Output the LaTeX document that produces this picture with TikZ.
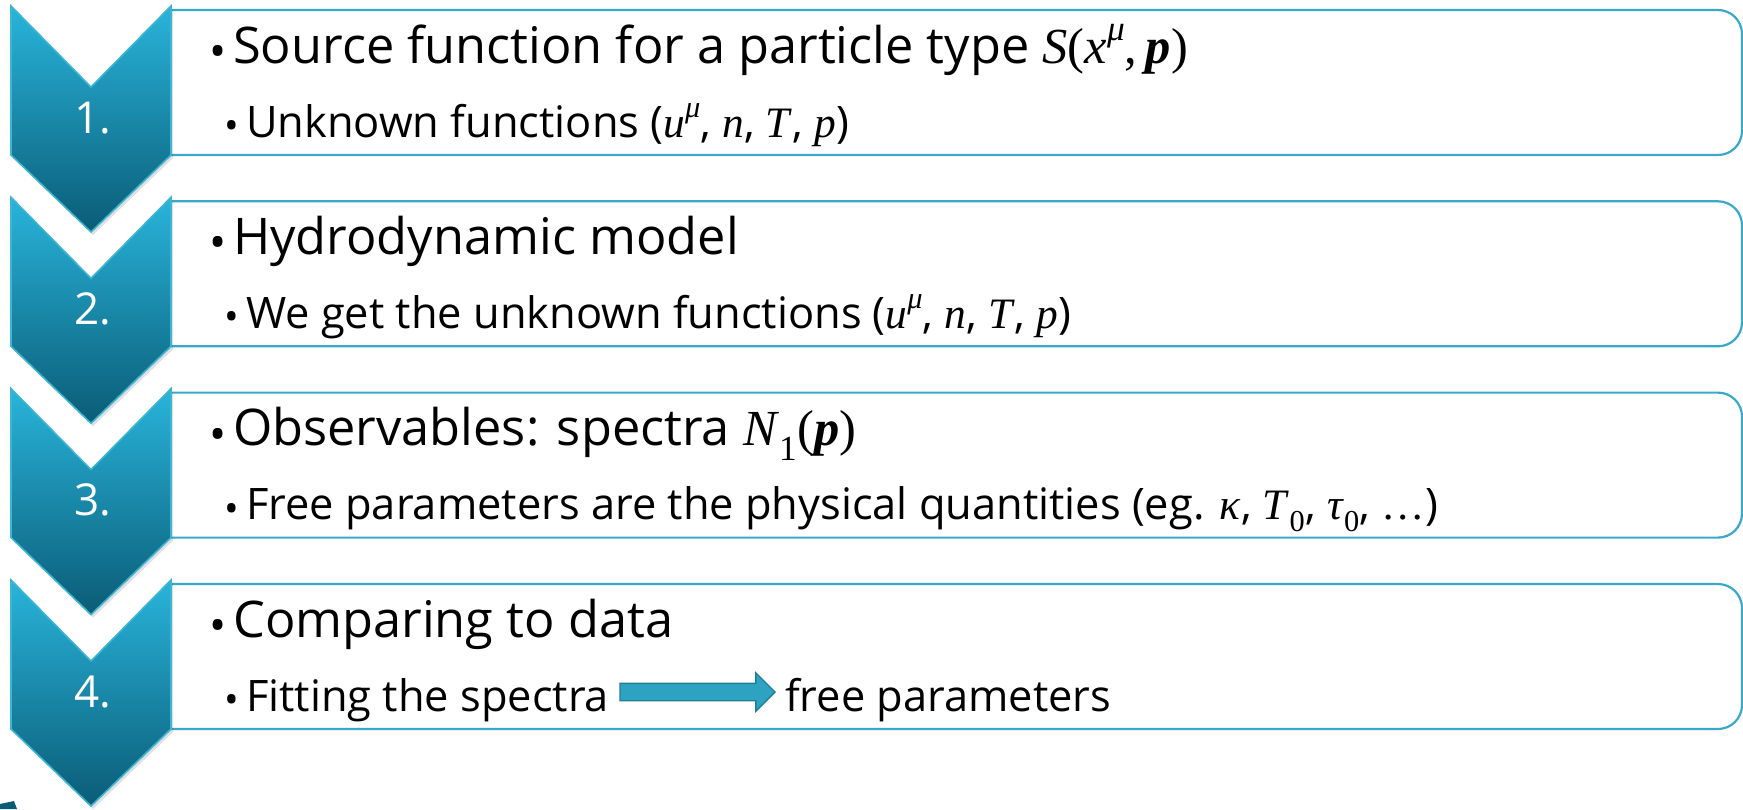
\documentclass[tikz,border=0pt]{standalone}
\usepackage{fontspec}
\setmainfont{Open Sans}
\newfontfamily\mser{Liberation Serif}
\usetikzlibrary{shapes.arrows}
\definecolor{chevtop}{HTML}{29B4DB}
\definecolor{chevbot}{HTML}{0A5C76}
\definecolor{chevline}{HTML}{3DB5D3}
\definecolor{boxline}{HTML}{3AA9C9}
\definecolor{arrfill}{HTML}{2EA3C1}
\definecolor{arrline}{HTML}{1E7F99}
\newcommand{\tbul}{\makebox[32pt][c]{\raisebox{-4.5pt}{\scalebox{0.9}{\textbullet}}}\hspace{-1pt}}
\newcommand{\sbul}{\makebox[12pt][c]{\raisebox{-2.5pt}{\scalebox{0.9}{\textbullet}}}\hspace{8pt}}
\newcommand{\mi}[1]{{\mser\itshape #1\/}}
\newcommand{\mb}[1]{{\mser\bfseries\itshape #1\/}}
\newcommand{\msup}[1]{\raisebox{0.45em}{\mser\itshape\fontsize{0.7\dimexpr\fontdimen6\font\relax}{1}\selectfont #1}}
\tikzset{
  boxstyle/.style={draw=boxline, line width=2.2, fill=white},
  chevstyle/.style={top color=chevtop, bottom color=chevbot, draw=chevline, line width=1.6},
  chevshadow/.style={fill=black, opacity=0.12},
  numstyle/.style={text=white, anchor=base, font=\fontsize{44}{48}\selectfont, inner sep=0},
  titlestyle/.style={anchor=base west, inner sep=0, font=\fontsize{50.5}{54}\selectfont},
  substyle/.style={anchor=base west, inner sep=0, font=\fontsize{43.4}{46}\selectfont},
  arrowstyle/.style={single arrow, draw=arrline, fill=arrfill, line width=1.4,
    minimum height=155, inner xsep=0, inner ysep=8, single arrow head extend=10.5}
}
\begin{document}
\begin{tikzpicture}[x=1pt,y=1pt]
\useasboundingbox (0,0) rectangle (1743,-809);
\foreach \i/\t in {1/6,2/197.3,3/388.6,4/580}{
  \path[boxstyle] (170,-\t-4) -- (1718,-\t-4) arc[start angle=90,end angle=0,radius=24]
     -- (1742,-\t-125) arc[start angle=0,end angle=-90,radius=24] -- (170,-\t-149) -- cycle;
  \path[chevshadow] (13,-\t-3) -- (93,-\t-84) -- (173,-\t-3) -- (173,-\t-152) -- (93,-\t-229) -- (13,-\t-152) -- cycle;
  \path[chevstyle] (11,-\t) -- (91,-\t-81) -- (171,-\t) -- (171,-\t-149) -- (91,-\t-226) -- (11,-\t-149) -- cycle;
  \node[numstyle] (num\i) at (93,-\t-127) {\i.};
}
\node[titlestyle] (title1) at (202,-63) {\tbul Source function for a particle type \mi{S}{\mser(}\mi{x}\msup{μ}{\mser,\,}\mb{p}{\mser)}};
\node[substyle] (sub1) at (226,-137) {\sbul Unknown functions ({\mser\itshape u}\msup{μ}, \mi{n}, \mi{T}, \mi{p})};
\node[titlestyle] (title2) at (202,-254.3) {\tbul Hydrodynamic model};
\node[substyle] (sub2) at (226,-328.3) {\sbul We get the unknown functions ({\mser\itshape u}\msup{μ}, \mi{n}, \mi{T}, \mi{p})};
\node[titlestyle] (title3) at (202,-445.6) {\tbul Observables: spectra \mi{N}\textsubscript{\mser 1}{\mser(}\mb{p}{\mser)}};
\node[substyle] (sub3) at (226,-519.6) {\sbul Free parameters are the physical quantities (eg. \mi{κ}, \mi{T}\textsubscript{\mser 0}, \mi{τ}\textsubscript{\mser 0}, {\mser …})};
\node[titlestyle] (title4) at (202,-637) {\tbul Comparing to data};
\node[substyle] (sub4) at (226,-711) {\sbul Fitting the spectra};
\coordinate (arrowrow) at (0,-692);
\node[arrowstyle, anchor=west] (arrow4) at ([xshift=10pt]sub4.east |- arrowrow) {};
\node[substyle] (sub4b) at ([xshift=9pt]arrow4.east |- sub4.base) {free parameters};
\path[fill=chevbot] (0,-804) -- (14,-801) -- (17,-809) -- (0,-809) -- cycle;
\end{tikzpicture}
\end{document}
